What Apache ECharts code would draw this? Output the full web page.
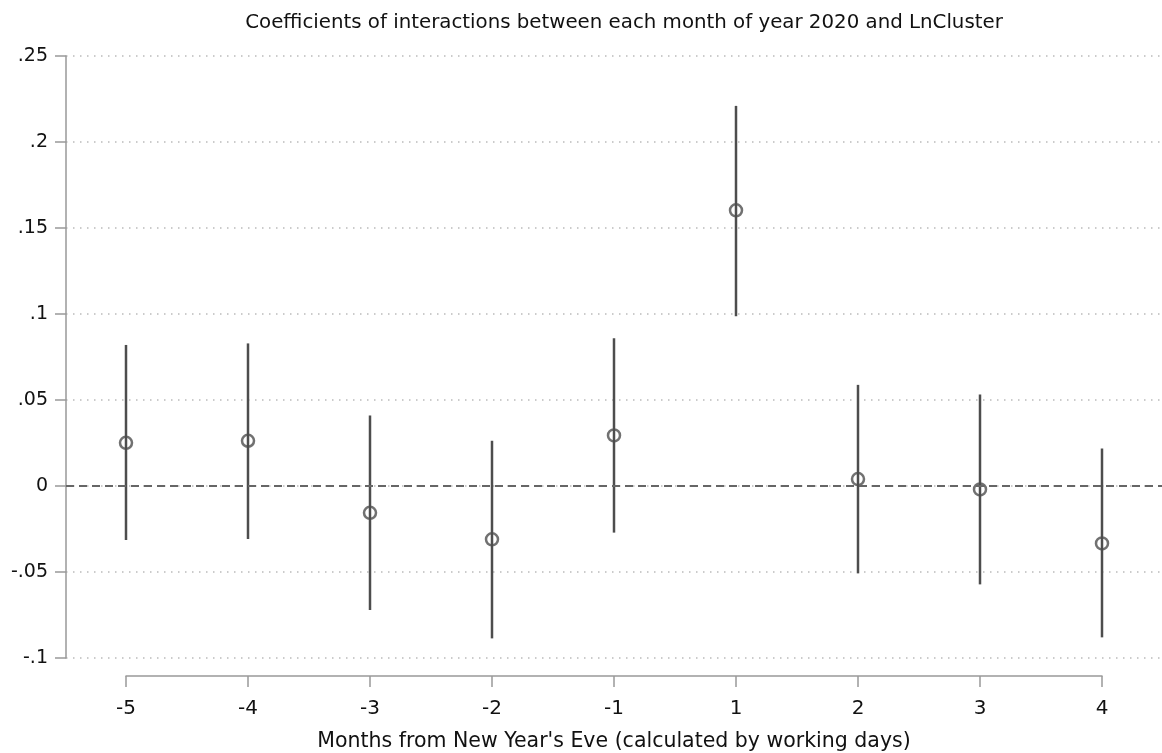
<!DOCTYPE html>
<html>
<head>
<meta charset="utf-8">
<title>Coefficients by month</title>
<script src="https://cdn.jsdelivr.net/npm/echarts@6/dist/echarts.min.js"></script>
<style>
  html, body { margin: 0; padding: 0; background: #fff; }
  #chart { width: 1162px; height: 753px; }
</style>
</head>
<body>
<div id="chart"></div>
<script>
// Months relative to New Year's Eve
var months = ['-5', '-4', '-3', '-2', '-1', '1', '2', '3', '4'];
// Point estimates of the interaction coefficients
var coef = [0.0251, 0.0263, -0.0156, -0.0310, 0.0294, 0.1603, 0.0040, -0.0020, -0.0334];
// 95% confidence bounds
var ciLow = [-0.0314, -0.0308, -0.0721, -0.0886, -0.0271, 0.0987, -0.0508, -0.0572, -0.0880];
var ciHigh = [0.0820, 0.0829, 0.0410, 0.0263, 0.0859, 0.2210, 0.0588, 0.0532, 0.0218];
// Y-axis tick labels (Stata style, no leading zero)
var yTickLabels = ['-.1', '-.05', '0', '.05', '.1', '.15', '.2', '.25'];

var Y_MIN = -0.1, Y_MAX = 0.25, Y_STEP = 0.05;
var FONT = '"DejaVu Sans", "Liberation Sans", Arial, sans-serif';
var INK = '#4d4d4d';

var chart = echarts.init(document.getElementById('chart'), null, { renderer: 'canvas' });

var ciData = months.map(function (m, i) { return [i, ciLow[i], ciHigh[i]]; });
var ptData = months.map(function (m, i) { return [i, coef[i]]; });

var option = {
  backgroundColor: '#ffffff',
  animation: false,
  title: {
    text: 'Coefficients of interactions between each month of year 2020 and LnCluster',
    left: 619,
    textAlign: 'center',
    top: 8,
    textStyle: { fontFamily: FONT, fontSize: 19.8, fontWeight: 'normal', color: '#111' }
  },
  grid: [
    // frame for the y axis and its horizontal gridlines
    { left: 66, right: 0, top: 56, height: 602, outerBoundsMode: 'none' },
    // frame spanning the first to last month for the x axis and the marks
    { left: 126, width: 976, top: 56, height: 602, outerBoundsMode: 'none' }
  ],
  xAxis: [
    { gridIndex: 0, type: 'value', min: 0, max: 1, show: false },
    {
      gridIndex: 1,
      type: 'category',
      data: months,
      boundaryGap: false,
      offset: 18,
      axisLine: { show: true, onZero: false, lineStyle: { color: '#999', width: 1.5 } },
      axisTick: { show: true, length: 11, lineStyle: { color: '#999', width: 1.5 } },
      axisLabel: { margin: 23, fontFamily: FONT, fontSize: 20, color: '#111' },
      splitLine: { show: false },
      name: "Months from New Year's Eve (calculated by working days)",
      nameLocation: 'middle',
      nameGap: 55,
      nameTextStyle: { fontFamily: FONT, fontSize: 20.5, color: '#111' }
    }
  ],
  yAxis: [
    {
      gridIndex: 0,
      type: 'value',
      min: Y_MIN, max: Y_MAX, interval: Y_STEP,
      axisLine: { show: true, onZero: false, lineStyle: { color: '#999', width: 1.5 } },
      axisTick: { show: true, length: 11, lineStyle: { color: '#999', width: 1.5 } },
      axisLabel: {
        margin: 18,
        fontFamily: FONT, fontSize: 19, color: '#111',
        formatter: function (v) {
          var idx = Math.round((v - Y_MIN) / Y_STEP);
          return yTickLabels[idx] !== undefined ? yTickLabels[idx] : '';
        }
      },
      splitLine: { show: true, lineStyle: { color: '#bbbbbb', width: 1.5, type: [1.5, 5.5] } }
    },
    { gridIndex: 1, type: 'value', min: Y_MIN, max: Y_MAX, interval: Y_STEP, show: false }
  ],
  series: [
    {
      // zero reference line across the full plot width
      type: 'line',
      xAxisIndex: 0, yAxisIndex: 0,
      data: [],
      silent: true,
      markLine: {
        silent: true,
        symbol: ['none', 'none'],
        label: { show: false },
        lineStyle: { color: '#666', width: 2, type: [8, 5] },
        data: [{ yAxis: 0 }]
      }
    },
    {
      // confidence interval spikes
      type: 'custom',
      xAxisIndex: 1, yAxisIndex: 1,
      data: ciData,
      encode: { x: 0, y: [1, 2] },
      renderItem: function (params, api) {
        var x = api.value(0);
        var lo = api.coord([x, api.value(1)]);
        var hi = api.coord([x, api.value(2)]);
        return {
          type: 'line',
          shape: { x1: lo[0], y1: lo[1], x2: hi[0], y2: hi[1] },
          style: { stroke: INK, lineWidth: 2.5 }
        };
      },
      z: 2
    },
    {
      // point estimates as hollow circles
      type: 'scatter',
      xAxisIndex: 1, yAxisIndex: 1,
      data: ptData,
      symbol: 'circle',
      symbolSize: 12,
      itemStyle: { color: 'rgba(0,0,0,0)', borderColor: INK, borderWidth: 2.5 },
      z: 3
    }
  ]
};

chart.setOption(option);
</script>
</body>
</html>
